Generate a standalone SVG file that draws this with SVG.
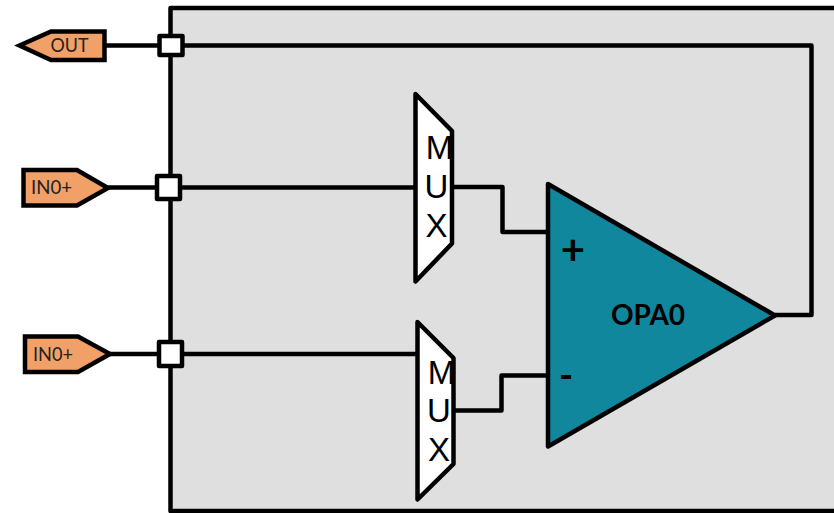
<svg xmlns="http://www.w3.org/2000/svg" width="834" height="513" viewBox="0 0 834 513">
<style>
.s{stroke:#000;stroke-width:4.500;stroke-linejoin:round}
.w{fill:none;stroke:#000;stroke-width:4.500;stroke-linejoin:round}
.tag{fill:#f1a068;stroke:#000;stroke-width:4.500;stroke-linejoin:miter}
.port{fill:#fff}
.lab{font-family:Lato,"Liberation Sans",sans-serif;font-size:18.500px;fill:#222}
.mx{font-family:"Liberation Sans",Arial,sans-serif;font-size:33px;fill:#000;text-anchor:middle}
.b{font-family:Lato,"Liberation Sans",sans-serif;font-weight:700;fill:#000;text-anchor:middle}
</style>
<rect id="frame" class="s" x="170.500" y="8" width="680" height="503" fill="#dfdfdf"/>
<g id="connectors">
<path class="w" d="M104 45.500H811.500V315H775"/>
<path class="w" d="M108 187.500H416"/>
<path class="w" d="M110 354H418"/>
<path class="w" d="M452 187H502.500V232H548"/>
<path class="w" d="M454 410.500H501.500V375.500H548"/>
</g>
<g id="out-tag"><path class="tag" d="M19.500 45.500L51 31.500H104.500V60H51Z"/><text class="lab" x="50.500" y="52" textLength="38" lengthAdjust="spacingAndGlyphs">OUT</text></g>
<g id="in1-tag"><path class="tag" d="M23.500 170H77L108 188L77 205.500H23.500Z"/><text class="lab" x="31" y="194" textLength="41" lengthAdjust="spacingAndGlyphs">IN0+</text></g>
<g id="in2-tag"><path class="tag" d="M25 336.500H78L110 354L78 372H25Z"/><text class="lab" x="33" y="361" textLength="40" lengthAdjust="spacingAndGlyphs">IN0+</text></g>
<g id="port-out"><rect class="s port" x="159.500" y="36" width="23" height="19"/></g>
<g id="port-in1"><rect class="s port" x="157" y="176" width="23" height="23"/></g>
<g id="port-in2"><rect class="s port" x="159" y="342" width="23" height="24"/></g>
<g id="mux1"><path class="s port" d="M415.500 94L452 131V243.500L415.500 281.500Z"/><text class="mx" x="439.500" y="159">M</text><text class="mx" x="436.500" y="198">U</text><text class="mx" x="436.500" y="237">X</text></g>
<g id="mux2"><path class="s port" d="M417.500 322L453.500 358V464L417.500 499.500Z"/><text class="mx" x="441.500" y="384">M</text><text class="mx" x="439" y="422">U</text><text class="mx" x="439" y="461">X</text></g>
<g id="opa0"><path class="s" fill="#11879d" d="M548 184L775 315.500L548 446.500Z"/>
<text class="b" x="648" y="325" font-size="28">OPA0</text>
<text class="b" x="573" y="265" font-size="42">+</text>
<text class="b" x="566" y="389" font-size="38">-</text></g>
</svg>
